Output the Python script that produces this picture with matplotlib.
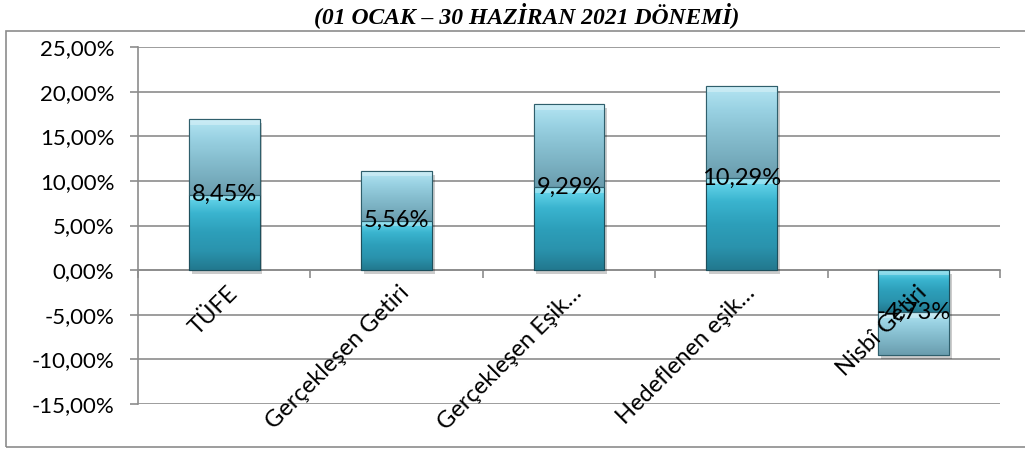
import matplotlib
matplotlib.use("Agg")
import matplotlib.pyplot as plt
import matplotlib.patheffects as pe
from matplotlib.colors import LinearSegmentedColormap
from matplotlib.patches import Rectangle
import numpy as np

# data
categories = ["TÜFE", "Gerçekleşen Getiri", "Gerçekleşen Eşik…", "Hedeflenen eşik…", "Nisbî Getiri"]
values = [8.45, 5.56, 9.29, 10.29, -4.73]        # labelled series (dark)
values_top = [8.45, 5.56, 9.29, 10.29, -4.73]    # stacked series (light)
yticks = [-15, -10, -5, 0, 5, 10, 15, 20, 25]
title = "(01 OCAK – 30 HAZİRAN 2021 DÖNEMİ)"

W, H = 1025, 449
fig = plt.figure(figsize=(W / 100, H / 100), dpi=100)
ax = fig.add_axes([138 / W, 1 - 404 / H, 862 / W, 357 / H])

font = "Lato"
fs = 17
x = np.arange(len(categories))
width = 0.41

# gradients (vertical, top -> bottom)
dark_cmap = LinearSegmentedColormap.from_list("dk", ["#6fdcf0", "#3ab4cf", "#2d9fba", "#2a93ad", "#22788e"])
light_cmap = LinearSegmentedColormap.from_list("lt", ["#b5e6f3", "#9ad2e3", "#88c0d1", "#79afc0", "#6a9cad"])

shadow = [pe.SimplePatchShadow(offset=(2, -3), shadow_rgbFace="#000000", alpha=0.2), pe.Normal()]

bars_dark = ax.bar(x, values, width, color="#2a98b4", edgecolor="#1d4f5c", linewidth=0.8, zorder=3,
                   path_effects=shadow)
bars_light = ax.bar(x, values_top, width, bottom=values, color="#84bccd", edgecolor="#2f5f6c",
                    linewidth=0.8, zorder=3, path_effects=shadow)

grad = np.linspace(0, 1, 256).reshape(-1, 1)
for bars, cmap in ((bars_dark, dark_cmap), (bars_light, light_cmap)):
    for b in bars:
        x0, y0 = b.get_x(), b.get_y()
        w, h = b.get_width(), b.get_height()
        lo, hi = min(y0, y0 + h), max(y0, y0 + h)
        im = ax.imshow(grad, cmap=cmap, aspect="auto", extent=(x0, x0 + w, lo, hi),
                       origin="upper", zorder=3.5, interpolation="bicubic")
        im.set_clip_path(b)
        # bevel highlight on the top of each segment
        ax.add_patch(Rectangle((x0, hi - 0.6), w, 0.6, facecolor="white", alpha=0.3,
                               edgecolor="none", zorder=3.6, clip_path=b))
        ax.add_patch(Rectangle((x0, lo), w, hi - lo, facecolor="none",
                               edgecolor=b.get_edgecolor(), linewidth=0.8, zorder=3.7))

# data labels
for xi, v in zip(x, values):
    ax.text(xi, v, f"{v:.2f}%".replace(".", ","), ha="center", va="center",
            fontsize=fs, family=font, color="black", zorder=5)

ax.set_xlim(-0.5, len(categories) - 0.5)
ax.set_ylim(yticks[0], yticks[-1])
ax.set_yticks(yticks)
ax.set_yticklabels([f"{t:.2f}%".replace(".", ",") for t in yticks], fontsize=16, family=font)
ax.yaxis.grid(True, color="#8c8c8c", linewidth=1.2, zorder=0)
ax.set_axisbelow(True)

# x axis at zero with ticks at category boundaries
ax.spines["bottom"].set_position(("data", 0))
ax.spines["bottom"].set_color("#8c8c8c")
ax.spines["bottom"].set_linewidth(1.2)
ax.spines["left"].set_color("#8c8c8c")
ax.spines["left"].set_linewidth(1.2)
ax.spines["top"].set_visible(False)
ax.spines["right"].set_visible(False)
ax.set_xticks(np.arange(len(categories) + 1) - 0.5)
ax.set_xticklabels([])
ax.tick_params(axis="x", length=6, color="#8c8c8c", width=1.2)
ax.tick_params(axis="y", length=6, color="#8c8c8c", width=1.2, pad=11)

for xi, c in zip(x, categories):
    ax.annotate(c, xy=(xi, 0), xytext=(7, -14), textcoords="offset points",
                rotation=45, ha="right", va="center", rotation_mode="anchor",
                fontsize=fs, family=font, color="black", zorder=6)

# outer frame and title
fig.add_artist(Rectangle((6 / W, 2 / H), 1.2, 1 - 33 / H, transform=fig.transFigure,
                         facecolor="none", edgecolor="#8c8c8c", linewidth=1.2))
fig.text(0.514, 1 - 15 / H, title, ha="center", va="center", fontsize=17,
         family="Liberation Serif", fontweight="bold", fontstyle="italic")

fig.savefig("out.png", dpi=100)
